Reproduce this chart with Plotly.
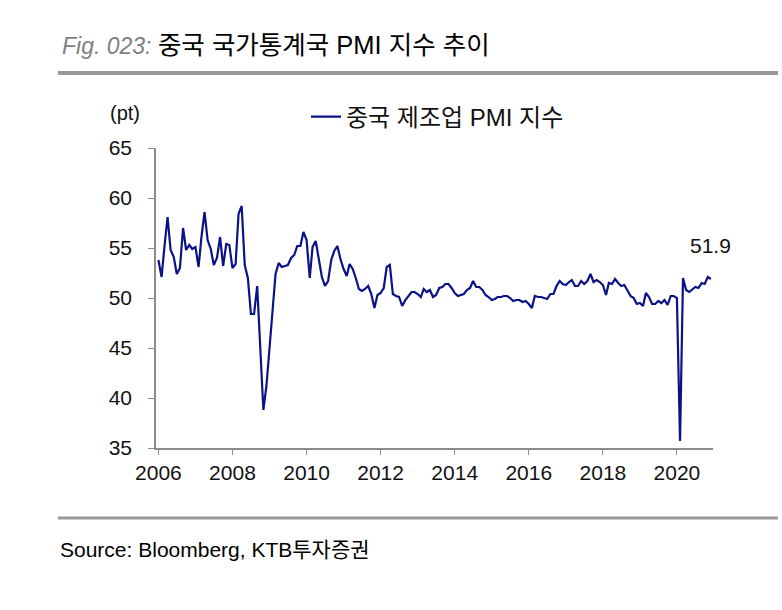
import pandas as pd
import plotly.graph_objects as go

# ---- data ----
dates = pd.date_range("2006-01-01", periods=180, freq="MS")
pmi_2006 = [53.8, 52.1, 55.1, 58.1, 54.8, 54.1, 52.4, 53.0, 57.0, 54.8, 55.3, 54.9]
pmi_2007 = [55.1, 53.1, 56.1, 58.6, 55.8, 54.9, 53.3, 54.0, 56.1, 53.2, 55.4, 55.3]
pmi_2008 = [53.0, 53.4, 58.4, 59.2, 53.3, 52.0, 48.4, 48.4, 51.2, 44.6, 38.8, 41.2]
pmi_2009 = [45.3, 49.0, 52.4, 53.5, 53.1, 53.2, 53.3, 54.0, 54.3, 55.2, 55.2, 56.6]
pmi_2010 = [55.8, 52.0, 55.1, 55.7, 53.9, 52.1, 51.2, 51.7, 53.8, 54.7, 55.2, 53.9]
pmi_2011 = [52.9, 52.2, 53.4, 52.9, 52.0, 50.9, 50.7, 50.9, 51.2, 50.4, 49.0, 50.3]
pmi_2012 = [50.5, 51.0, 53.1, 53.3, 50.4, 50.2, 50.1, 49.2, 49.8, 50.2, 50.6, 50.6]
pmi_2013 = [50.4, 50.1, 50.9, 50.6, 50.8, 50.1, 50.3, 51.0, 51.1, 51.4, 51.4, 51.0]
pmi_2014 = [50.5, 50.2, 50.3, 50.4, 50.8, 51.0, 51.7, 51.1, 51.1, 50.8, 50.3, 50.1]
pmi_2015 = [49.8, 49.9, 50.1, 50.1, 50.2, 50.2, 50.0, 49.7, 49.8, 49.8, 49.6, 49.7]
pmi_2016 = [49.4, 49.0, 50.2, 50.1, 50.1, 50.0, 49.9, 50.4, 50.4, 51.2, 51.7, 51.4]
pmi_2017 = [51.3, 51.6, 51.8, 51.2, 51.2, 51.7, 51.4, 51.7, 52.4, 51.6, 51.8, 51.6]
pmi_2018 = [51.3, 50.3, 51.5, 51.4, 51.9, 51.5, 51.2, 51.3, 50.8, 50.2, 50.0, 49.4]
pmi_2019 = [49.5, 49.2, 50.5, 50.1, 49.4, 49.4, 49.7, 49.5, 49.8, 49.3, 50.2, 50.2]
pmi_2020 = [50.0, 35.7, 52.0, 50.8, 50.6, 50.9, 51.1, 51.0, 51.5, 51.4, 52.1, 51.9]
pmi = (pmi_2006 + pmi_2007 + pmi_2008 + pmi_2009 + pmi_2010 + pmi_2011 + pmi_2012
       + pmi_2013 + pmi_2014 + pmi_2015 + pmi_2016 + pmi_2017 + pmi_2018 + pmi_2019 + pmi_2020)

series_name = "중국 제조업 PMI 지수"
title_fig = "Fig. 023:"
title_text = "중국 국가통계국 PMI 지수 추이"
source_text = "Source: Bloomberg, KTB투자증권"
unit_text = "(pt)"

# ---- layout geometry (pixels) ----
W, H = 782, 610
L, R, T, B = 156, 69, 148, 162
PW, PH = W - L - R, H - T - B


def px_x(x):
    return (x - L) / PW


def px_y(y):
    return (H - B - y) / PH


FONT = "Liberation Sans, Arial, Noto Sans CJK KR, sans-serif"
KFONT = "Liberation Sans, Noto Sans CJK KR, sans-serif"

fig = go.Figure()
fig.add_trace(go.Scatter(
    x=dates, y=pmi, mode="lines", name=series_name,
    line=dict(color="#0b1187", width=2.2),
))

fig.add_annotation(
    x=dates[-1], y=pmi[-1], text=f"{pmi[-1]}", showarrow=False,
    yshift=34, font=dict(family=FONT, size=21, color="#111"),
)

# title
fig.add_annotation(
    xref="paper", yref="paper", x=px_x(60), y=px_y(45), xanchor="left", yanchor="middle",
    showarrow=False,
    text=(f"<i><span style='color:#7f7f7f'>{title_fig}</span></i> "
          f"<span style='font-size:25.5px'>{title_text}</span>"),
    font=dict(family="Liberation Sans Narrow, Liberation Sans, Noto Sans CJK KR", size=23, color="#000"),
)
# unit
fig.add_annotation(
    xref="paper", yref="paper", x=px_x(108), y=px_y(113), xanchor="left", yanchor="middle",
    showarrow=False, text=unit_text, font=dict(family=FONT, size=20, color="#111"),
)
# source
fig.add_annotation(
    xref="paper", yref="paper", x=px_x(58), y=px_y(549), xanchor="left", yanchor="middle",
    showarrow=False, text=source_text,
    font=dict(family="Liberation Sans Narrow, Liberation Sans, Noto Sans CJK KR", size=21, color="#000"),
)

# gray rules
fig.add_shape(type="line", xref="paper", yref="paper", x0=px_x(58), x1=px_x(778),
              y0=px_y(73), y1=px_y(73), line=dict(color="#999999", width=4))
fig.add_shape(type="line", xref="paper", yref="paper", x0=px_x(58), x1=px_x(778),
              y0=px_y(518), y1=px_y(518), line=dict(color="#999999", width=3))

fig.update_layout(
    width=W, height=H, autosize=False,
    margin=dict(l=L, r=R, t=T, b=B, pad=0),
    paper_bgcolor="white", plot_bgcolor="white",
    showlegend=True,
    legend=dict(
        x=px_x(306), y=px_y(117), xanchor="left", yanchor="middle",
        orientation="h", bgcolor="rgba(0,0,0,0)",
        font=dict(family=KFONT, size=24, color="#111"),
    ),
    xaxis=dict(
        type="date", range=["2005-12-08", "2020-12-22"],
        tick0="2006-01-01", dtick="M24", tickformat="%Y",
        showgrid=False, zeroline=False,
        showline=True, linecolor="#8c8c8c", linewidth=1.5,
        ticks="outside", ticklen=5, tickcolor="#8c8c8c", tickwidth=1,
        tickfont=dict(family=FONT, size=21, color="#111"),
    ),
    yaxis=dict(
        range=[35, 65], dtick=5, tick0=35,
        showgrid=False, zeroline=False,
        showline=True, linecolor="#8c8c8c", linewidth=1.5,
        ticks="outside", ticklen=6, tickcolor="#8c8c8c", tickwidth=1,
        ticklabelstandoff=12,
        tickfont=dict(family=FONT, size=21, color="#111"),
    ),
)

fig.write_html("out.html")
